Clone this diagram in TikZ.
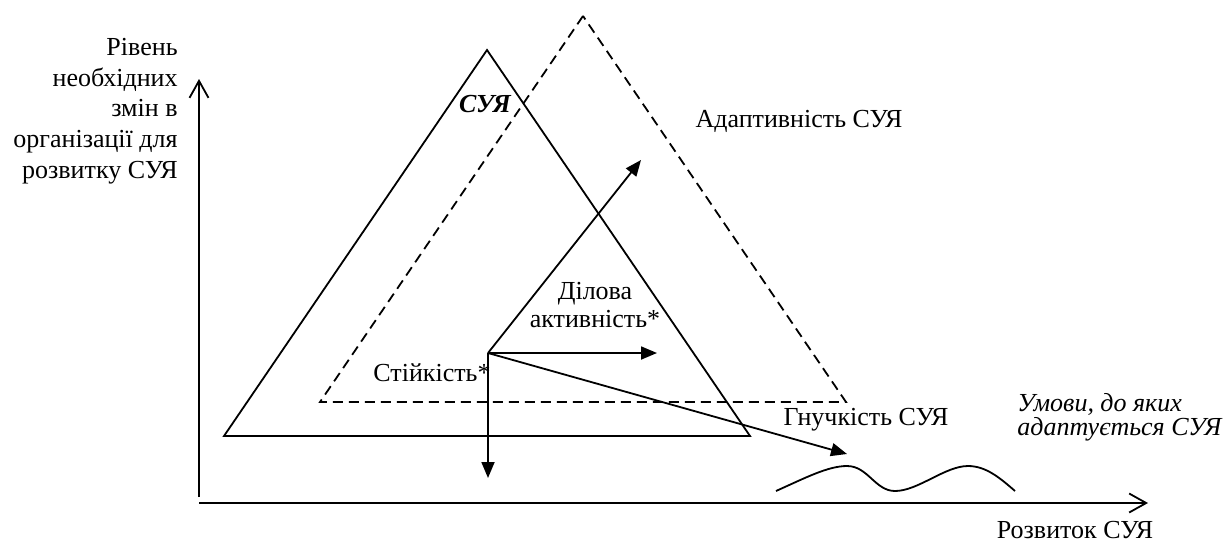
\documentclass[tikz,border=0pt]{standalone}
\usepackage{fontspec}
\setmainfont{Liberation Serif}
\usetikzlibrary{arrows.meta}
\begin{document}
\begin{tikzpicture}[x=0.5pt,y=-0.5pt,
  axis/.style={line width=1.1pt,-{Straight Barb[length=8.5pt,width=9.5pt,line width=0.9pt]}},
  frame/.style={line width=0.9pt,line join=miter},
  dashframe/.style={frame,dash pattern=on 5pt off 3pt},
  vec/.style={line width=0.9pt,-{Triangle[length=8pt,width=6.5pt]}},
  lbl/.style={inner sep=0pt,font=\fontsize{13}{15.3}\selectfont},
]
\useasboundingbox (0,0) rectangle (1231,542);

% axes
\coordinate (yBot) at (199,497);
\coordinate (yTop) at (199,79);
\coordinate (xLeft) at (199,503);
\coordinate (xRight) at (1148,503);
\draw[axis] (yBot) -- (yTop);
\draw[axis] (xLeft) -- (xRight);

% system triangle (solid) and adapted triangle (dashed)
\coordinate (sA) at (487,50);
\coordinate (sL) at (224,436);
\coordinate (sR) at (750,436);
\coordinate (dA) at (583,16);
\coordinate (dL) at (320,402);
\coordinate (dR) at (846,402);
\draw[frame] (sA) -- (sL) -- (sR) -- cycle;
\draw[dashframe] (dA) -- (dL) -- (dR) -- cycle;

% vectors from the common origin
\coordinate (O) at (488,353);
\coordinate (vUp) at (641,160);
\coordinate (vRight) at (657,353);
\coordinate (vDown) at (488,478);
\coordinate (vFlex) at (847,454);
\draw[vec] (O) -- (vUp);
\draw[vec] (O) -- (vRight);
\draw[vec] (O) -- (vDown);
\draw[vec] (O) -- (vFlex);

% environment curve
\coordinate (w0) at (776,491);
\coordinate (w1) at (847,466);
\coordinate (w2) at (895,491);
\coordinate (w3) at (968,466);
\coordinate (w4) at (1015,491);
\draw[line width=0.9pt] (w0) .. controls (805,478) and (828,466) .. (w1)
  .. controls (868,466) and (875,491) .. (w2)
  .. controls (918,491) and (945,466) .. (w3)
  .. controls (986,466) and (1000,478) .. (w4);

% labels
\node[lbl,align=right,anchor=north east] (ylab) at (178,38)
  {Рівень\\необхідних\\змін в\\організації для\\розвитку СУЯ};
\node[lbl,anchor=base] (xlab) at (1075,538) {Розвиток СУЯ};
\node[lbl,anchor=base,font=\fontsize{13}{15.3}\selectfont\bfseries\itshape] (sys) at (485,112) {СУЯ};
\node[lbl,anchor=base] (adapt) at (799,127.5) {Адаптивність СУЯ};
\node[lbl,align=center,font=\fontsize{13}{14}\selectfont] (busy) at (595,305) {Ділова\\активність*};
\node[lbl,anchor=base] (stab) at (432,381.5) {Стійкість*};
\node[lbl,anchor=base] (flex) at (866,425) {Гнучкість СУЯ};
\node[lbl,align=left,anchor=north west,font=\fontsize{13}{12}\selectfont\itshape] (cond) at (1017,393)
  {Умови, до яких\\адаптується СУЯ};
\end{tikzpicture}
\end{document}
